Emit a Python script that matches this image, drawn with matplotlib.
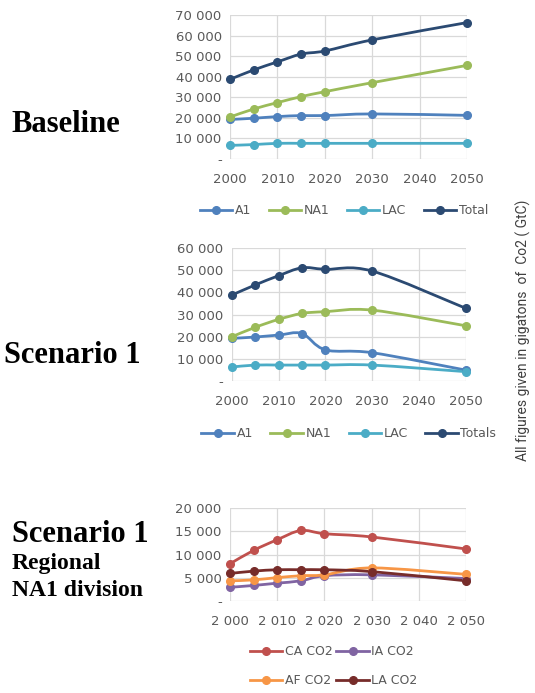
import matplotlib
matplotlib.use("Agg")
import matplotlib.pyplot as plt
from matplotlib.path import Path
from matplotlib.patches import PathPatch
from matplotlib.lines import Line2D
from matplotlib.ticker import FuncFormatter

# data (GtC)
years = [2000, 2005, 2010, 2015, 2020, 2030, 2050]

base_a1 = [19200, 19800, 20600, 21100, 21100, 21900, 21200]
base_na1 = [20400, 24300, 27400, 30300, 32700, 37100, 45500]
base_lac = [6600, 7000, 7600, 7600, 7600, 7600, 7600]
base_total = [38700, 43300, 47200, 51000, 52500, 57900, 66300]

s1_a1 = [19200, 19800, 20700, 21400, 14000, 12700, 4800]
s1_na1 = [19900, 24200, 27800, 30500, 31300, 32000, 24900]
s1_lac = [6200, 7100, 7100, 7100, 7100, 7100, 4100]
s1_total = [38800, 43400, 47600, 51200, 50500, 49700, 32800]

ca_co2 = [8000, 10900, 13200, 15200, 14500, 13800, 11200]
ia_co2 = [2900, 3300, 3800, 4300, 5400, 5600, 4800]
af_co2 = [4300, 4500, 5000, 5400, 5600, 7100, 5700]
la_co2 = [5900, 6400, 6700, 6700, 6700, 6300, 4300]

C_A1, C_NA1, C_LAC, C_TOT = "#4F81BD", "#9BBB59", "#4BACC6", "#2B4A72"
C_CA, C_IA, C_AF, C_LA = "#C0504D", "#8064A2", "#F79646", "#772C2A"

TICK = "#595959"
GRID = "#D9D9D9"


def smooth_path(xs, ys):
    # excel-like smoothed line: catmull-rom converted to cubic bezier segments
    pts = list(zip(xs, ys))
    verts = [pts[0]]
    codes = [Path.MOVETO]
    n = len(pts)
    for i in range(n - 1):
        p0 = pts[i - 1] if i > 0 else pts[i]
        p1 = pts[i]
        p2 = pts[i + 1]
        p3 = pts[i + 2] if i + 2 < n else pts[i + 1]
        c1 = (p1[0] + (p2[0] - p0[0]) / 6, p1[1] + (p2[1] - p0[1]) / 6)
        c2 = (p2[0] - (p3[0] - p1[0]) / 6, p2[1] - (p3[1] - p1[1]) / 6)
        verts += [c1, c2, p2]
        codes += [Path.CURVE4] * 3
    return Path(verts, codes)


def draw_series(ax, vals, color):
    ax.add_patch(PathPatch(smooth_path(years, vals), fill=False, edgecolor=color,
                           lw=2.0, clip_on=False, capstyle="round", joinstyle="round"))
    ax.plot(years, vals, "o", color=color, ms=5.5, clip_on=False, zorder=3)


def fmt_y(v, pos):
    if v == 0:
        return "-"
    return f"{int(v):,}".replace(",", " ")


def setup(ax, ymax, ystep, space_years=False):
    ax.set_xlim(2000, 2050)
    ax.set_ylim(0, ymax)
    ax.set_xticks(range(2000, 2051, 10))
    ax.set_yticks(range(0, ymax + 1, ystep))
    ax.yaxis.set_major_formatter(FuncFormatter(fmt_y))
    if space_years:
        ax.xaxis.set_major_formatter(FuncFormatter(lambda v, p: f"{int(v):,}".replace(",", " ")))
    ax.grid(True, color=GRID, lw=0.9)
    ax.set_axisbelow(True)
    for s in ax.spines.values():
        s.set_visible(False)
    ax.tick_params(axis="both", length=0, colors=TICK, labelsize=9.5)
    ax.tick_params(axis="x", pad=10)
    ax.tick_params(axis="y", pad=6)


def handles(colors, labels):
    return [Line2D([], [], color=c, lw=2.0, marker="o", ms=5.5, label=l)
            for c, l in zip(colors, labels)]


def add_legend(ax, h, anchor, ncol, **kw):
    leg = ax.legend(handles=h, loc="center", bbox_to_anchor=anchor, ncol=ncol,
                    frameon=False, fontsize=9, handlelength=2.6, handletextpad=0.2, **kw)
    for t in leg.get_texts():
        t.set_color(TICK)


fig = plt.figure(figsize=(5.35, 6.93), dpi=100)

# Baseline
ax1 = fig.add_axes([0.430, 0.7706, 0.443, 0.2078])
setup(ax1, 70000, 10000)
for vals, c in [(base_a1, C_A1), (base_na1, C_NA1), (base_lac, C_LAC), (base_total, C_TOT)]:
    draw_series(ax1, vals, c)
add_legend(ax1, handles([C_A1, C_NA1, C_LAC, C_TOT], ["A1", "NA1", "LAC", "Total"]),
           (0.48, -0.36), 4, columnspacing=1.4)

# Scenario 1
ax2 = fig.add_axes([0.433, 0.4506, 0.438, 0.191])
setup(ax2, 60000, 10000)
for vals, c in [(s1_a1, C_A1), (s1_na1, C_NA1), (s1_lac, C_LAC), (s1_total, C_TOT)]:
    draw_series(ax2, vals, c)
add_legend(ax2, handles([C_A1, C_NA1, C_LAC, C_TOT], ["A1", "NA1", "LAC", "Totals"]),
           (0.5, -0.40), 4, columnspacing=1.4)

# Scenario 1, regional NA1 division
ax3 = fig.add_axes([0.430, 0.1332, 0.441, 0.1333])
setup(ax3, 20000, 5000, space_years=True)
for vals, c in [(ca_co2, C_CA), (ia_co2, C_IA), (af_co2, C_AF), (la_co2, C_LA)]:
    draw_series(ax3, vals, c)
add_legend(ax3, handles([C_CA, C_AF, C_IA, C_LA], ["CA CO2", "AF CO2", "IA CO2", "LA CO2"]),
           (0.44, -0.71), 2, columnspacing=0.3, labelspacing=1.3)

# titles on the left
serif = dict(family="Liberation Serif", weight="bold", color="black")
fig.text(0.022, 1 - 125 / 693, "Baseline", fontsize=22, va="center", **serif)
fig.text(0.008, 1 - 355 / 693, "Scenario 1", fontsize=22, va="center", **serif)
fig.text(0.022, 1 - 534 / 693, "Scenario 1", fontsize=22, va="center", **serif)
fig.text(0.022, 1 - 564 / 693, "Regional", fontsize=17, va="center", **serif)
fig.text(0.022, 1 - 591 / 693, "NA1 division", fontsize=17, va="center", **serif)

fig.text(0.978, 1 - 330 / 693, "All figures given in gigatons  of  Co2 ( GtC)", rotation=90,
         ha="center", va="center", fontsize=10, color="#404040", family="Roboto")

fig.savefig("out.png", dpi=100)
